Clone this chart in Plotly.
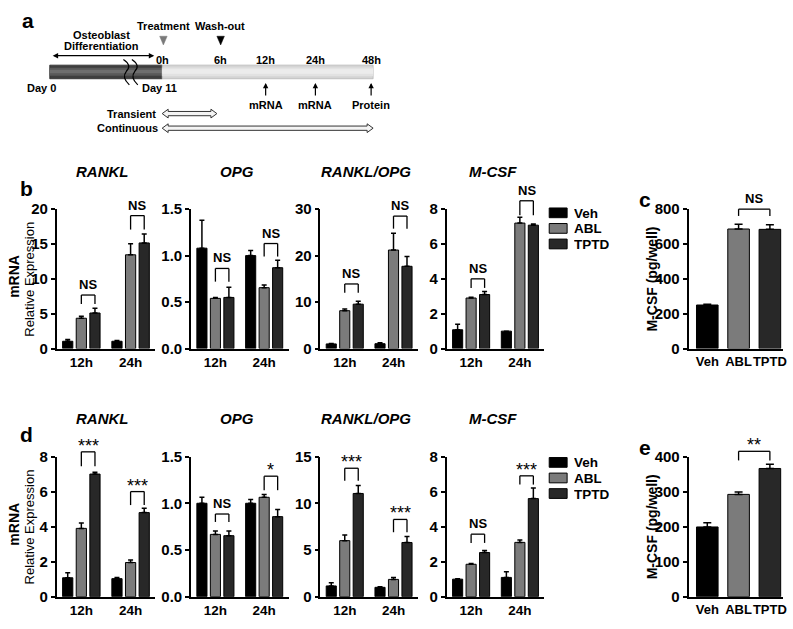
import plotly.graph_objects as go

W, H = 793, 629
FONT = "Liberation Sans, Arial, sans-serif"

# ---------------- data ----------------
groups = ["Veh", "ABL", "TPTD"]
times = ["12h", "24h"]
bar_colors = ["#000000", "#7b7b7b", "#282828"]

# panel b (transient treatment), values per group at [12h, 24h]
b_rankl_mean = {"Veh": [1.05, 1.05], "ABL": [4.35, 13.45], "TPTD": [5.1, 15.15]}
b_rankl_err = {"Veh": [0.25, 0.1], "ABL": [0.3, 1.6], "TPTD": [0.7, 1.3]}
b_opg_mean = {"Veh": [1.08, 1.0], "ABL": [0.54, 0.655], "TPTD": [0.55, 0.87]}
b_opg_err = {"Veh": [0.30, 0.055], "ABL": [0.01, 0.03], "TPTD": [0.11, 0.08]}
b_ratio_mean = {"Veh": [1.0, 1.05], "ABL": [8.15, 21.2], "TPTD": [9.55, 17.7]}
b_ratio_err = {"Veh": [0.1, 0.2], "ABL": [0.35, 3.6], "TPTD": [0.65, 2.1]}
b_mcsf_mean = {"Veh": [1.08, 1.0], "ABL": [2.9, 7.2], "TPTD": [3.1, 7.08]}
b_mcsf_err = {"Veh": [0.31, 0.0], "ABL": [0.04, 0.33], "TPTD": [0.17, 0.07]}
# panel c: M-CSF protein (pg/well)
c_mcsf_mean = [250, 686, 684]
c_mcsf_err = [4, 28, 26]

# panel d (continuous treatment)
d_rankl_mean = {"Veh": [1.08, 1.03], "ABL": [3.9, 1.95], "TPTD": [7.0, 4.8]}
d_rankl_err = {"Veh": [0.28, 0.07], "ABL": [0.3, 0.15], "TPTD": [0.1, 0.25]}
d_opg_mean = {"Veh": [1.0, 1.0], "ABL": [0.667, 1.064], "TPTD": [0.653, 0.857]}
d_opg_err = {"Veh": [0.065, 0.04], "ABL": [0.035, 0.03], "TPTD": [0.05, 0.075]}
d_ratio_mean = {"Veh": [1.15, 1.0], "ABL": [6.0, 1.85], "TPTD": [11.05, 5.8]}
d_ratio_err = {"Veh": [0.35, 0.05], "ABL": [0.6, 0.2], "TPTD": [0.85, 0.65]}
d_mcsf_mean = {"Veh": [1.0, 1.1], "ABL": [1.85, 3.1], "TPTD": [2.52, 5.6]}
d_mcsf_err = {"Veh": [0.03, 0.32], "ABL": [0.04, 0.14], "TPTD": [0.12, 0.6]}
# panel e
e_mcsf_mean = [199, 292, 366]
e_mcsf_err = [12, 7, 12]

# significance brackets ABL vs TPTD: (bracket top, leg bottom, label) per time point
b_rankl_sig = [(7.68, 6.4, "NS"), (19.07, 17.07, "NS")]
b_opg_sig = [(0.862, 0.72, "NS"), (1.13, 0.99, "NS")]
b_ratio_sig = [(13.9, 12.0, "NS"), (28.5, 25.8, "NS")]
b_mcsf_sig = [(4.0, 3.48, "NS"), (8.48, 7.65, "NS")]
c_sig = (800, 761, "NS")
d_rankl_sig = [(8.27, 7.45, "***"), (6.0, 5.23, "***")]
d_opg_sig = [(0.885, 0.80, "NS"), (1.29, 1.14, "*")]
d_ratio_sig = [(13.75, 12.4, "***"), (8.27, 6.9, "***")]
d_mcsf_sig = [(3.57, 3.07, "NS"), (6.9, 6.4, "***")]
e_sig = (415, 389, "**")

# ---------------- layout helpers ----------------
BARGAP = 0.17
BARGROUPGAP = 0.25


def px(x):
    return x / W


def py(y):
    return 1 - y / H


def sfx(n):
    return "" if n == 1 else str(n)


fig = go.Figure()
layout_axes = {}
shapes = []
annotations = []

ROW_B = (205.7, 349.0)
ROW_D = (460.0, 604.0)
COLS = [(57, 156), (192, 290), (322, 420), (449, 547)]
COL_P = (692, 787)

mrna_panels = [
    ("RANKL", b_rankl_mean, b_rankl_err, b_rankl_sig, 20, 5, None, ROW_B),
    ("OPG", b_opg_mean, b_opg_err, b_opg_sig, 1.5, 0.5, ".1f", ROW_B),
    ("RANKL/OPG", b_ratio_mean, b_ratio_err, b_ratio_sig, 30, 10, None, ROW_B),
    ("M-CSF", b_mcsf_mean, b_mcsf_err, b_mcsf_sig, 8, 2, None, ROW_B),
    ("RANKL", d_rankl_mean, d_rankl_err, d_rankl_sig, 8, 2, None, ROW_D),
    ("OPG", d_opg_mean, d_opg_err, d_opg_sig, 1.5, 0.5, ".1f", ROW_D),
    ("RANKL/OPG", d_ratio_mean, d_ratio_err, d_ratio_sig, 15, 5, None, ROW_D),
    ("M-CSF", d_mcsf_mean, d_mcsf_err, d_mcsf_sig, 8, 2, None, ROW_D),
]


def axis_common():
    return dict(showline=True, linecolor="black", linewidth=1.6, showgrid=False,
                zeroline=False, fixedrange=True)


def add_sig(n, xr, ymax, xa, xb, top, leg, label):
    """bracket drawn in axis-domain fractions of subplot n"""
    fa = (xa - xr[0]) / (xr[1] - xr[0])
    fb = (xb - xr[0]) / (xr[1] - xr[0])
    ft = top / ymax
    fl = leg / ymax
    xref = f"x{sfx(n)} domain"
    yref = f"y{sfx(n)} domain"
    ln = dict(color="black", width=1.3)
    shapes.append(dict(type="line", xref=xref, yref=yref, x0=fa, x1=fa, y0=fl, y1=ft, line=ln))
    shapes.append(dict(type="line", xref=xref, yref=yref, x0=fa, x1=fb, y0=ft, y1=ft, line=ln))
    shapes.append(dict(type="line", xref=xref, yref=yref, x0=fb, x1=fb, y0=ft, y1=fl, line=ln))
    if label == "NS":
        font = dict(family=FONT, size=13, color="black", weight="bold")
        ys = 1
    else:
        font = dict(family=FONT, size=18, color="black")
        ys = -6
    annotations.append(dict(xref=xref, yref=yref, x=(fa + fb) / 2, y=ft, text=label,
                            showarrow=False, xanchor="center", yanchor="bottom",
                            yshift=ys, font=font))


slot = (1 - BARGAP) / 3
n = 0
for i, (title, means, errs, sigs, ymax, dtick, fmt, row) in enumerate(mrna_panels):
    n += 1
    col = COLS[i % 4]
    xr = [-0.5, 1.5]
    for g, c in zip(groups, bar_colors):
        fig.add_trace(go.Bar(
            x=[0, 1], y=means[g], name=g, xaxis=f"x{sfx(n)}", yaxis=f"y{sfx(n)}",
            marker=dict(color=c, line=dict(color="black", width=1)),
            error_y=dict(type="data", symmetric=False, array=errs[g], arrayminus=[0, 0],
                         color="black", thickness=1.5, width=2.5),
            showlegend=False,
        ))
    xa = dict(axis_common(), domain=[px(col[0]), px(col[1])], anchor=f"y{sfx(n)}", range=xr,
              tickvals=[0, 1], ticktext=times, ticks="", tickangle=0,
              tickfont=dict(family=FONT, size=13.5, color="black", weight="bold"))
    ya = dict(axis_common(), domain=[py(row[1]), py(row[0])], anchor=f"x{sfx(n)}", range=[0, ymax],
              dtick=dtick, tick0=0, ticks="outside", ticklen=4, tickwidth=1.5, tickcolor="black",
              tickfont=dict(family=FONT, size=15, color="black", weight="bold"))
    if fmt:
        ya["tickformat"] = fmt
    layout_axes[f"xaxis{sfx(n)}"] = xa
    layout_axes[f"yaxis{sfx(n)}"] = ya
    for t, (top, lg, lab) in enumerate(sigs):
        add_sig(n, xr, ymax, t, t + slot, top, lg, lab)
    annotations.append(dict(xref="paper", yref="paper", x=px((col[0] + col[1]) / 2 - 3),
                            y=py(row[0] - 39), text=f"<b><i>{title}</i></b>", showarrow=False,
                            xanchor="center", yanchor="middle",
                            font=dict(family=FONT, size=15, color="black")))

# protein panels c and e
prot_panels = [(c_mcsf_mean, c_mcsf_err, c_sig, 800, 200, ROW_B),
               (e_mcsf_mean, e_mcsf_err, e_sig, 400, 100, ROW_D)]
for means, errs, sig, ymax, dtick, row in prot_panels:
    n += 1
    xr = [-0.6, 2.42]
    fig.add_trace(go.Bar(
        x=[0, 1, 2], y=means, xaxis=f"x{sfx(n)}", yaxis=f"y{sfx(n)}", width=0.69,
        marker=dict(color=bar_colors, line=dict(color="black", width=1)),
        error_y=dict(type="data", symmetric=False, array=errs, arrayminus=[0, 0, 0],
                     color="black", thickness=1.5, width=4),
        showlegend=False,
    ))
    layout_axes[f"xaxis{sfx(n)}"] = dict(axis_common(), domain=[px(COL_P[0]), px(COL_P[1])],
                                         anchor=f"y{sfx(n)}", range=xr, tickvals=[0, 1, 2],
                                         ticktext=groups, ticks="", tickangle=0,
                                         tickfont=dict(family=FONT, size=13, color="black", weight="bold"))
    layout_axes[f"yaxis{sfx(n)}"] = dict(axis_common(), domain=[py(row[1]), py(row[0])],
                                         anchor=f"x{sfx(n)}", range=[0, ymax], dtick=dtick, tick0=0,
                                         ticks="outside", ticklen=4, tickwidth=1.5, tickcolor="black",
                                         tickfont=dict(family=FONT, size=15, color="black", weight="bold"))
    add_sig(n, xr, ymax, 1, 2, *sig)
    annotations.append(dict(xref="paper", yref="paper", x=px(655), y=py((row[0] + row[1]) / 2),
                            text="<b>M-CSF (pg/well)</b>", textangle=-90, showarrow=False,
                            xanchor="center", yanchor="middle",
                            font=dict(family=FONT, size=14, color="black")))

# y titles for mRNA rows
for yc in [(ROW_B[0] + ROW_B[1]) / 2, (ROW_D[0] + ROW_D[1]) / 2]:
    annotations.append(dict(xref="paper", yref="paper", x=px(14), y=py(yc - 3), text="<b>mRNA</b>",
                            textangle=-90, showarrow=False, xanchor="center", yanchor="middle",
                            font=dict(family=FONT, size=14, color="black")))
    annotations.append(dict(xref="paper", yref="paper", x=px(30), y=py(yc), text="Relative Expression",
                            textangle=-90, showarrow=False, xanchor="center", yanchor="middle",
                            font=dict(family=FONT, size=13, color="black")))

# legends (one per row), drawn as swatches + labels
for ys in [(209.5, 225.5, 241.5), (466.0, 482.0, 498.0)]:
    for g, c, yc in zip(groups, bar_colors, ys):
        shapes.append(dict(type="rect", xref="paper", yref="paper", x0=px(552), x1=px(570),
                           y0=py(yc + 5), y1=py(yc - 5), fillcolor=c,
                           line=dict(color="black", width=1)))
        annotations.append(dict(xref="paper", yref="paper", x=px(576), y=py(yc), text=f"<b>{g}</b>",
                                showarrow=False, xanchor="left", yanchor="middle",
                                height=14, borderpad=0,
                                font=dict(family=FONT, size=13.5, color="black")))

# panel letters
for lab, x, y in [("a", 28, 12), ("b", 27, 184), ("c", 648, 196), ("d", 27, 437), ("e", 648, 451)]:
    annotations.append(dict(xref="paper", yref="paper", x=px(x), y=py(y), text=f"<b>{lab}</b>",
                            showarrow=False, xanchor="center", yanchor="middle",
                            font=dict(family=FONT, size=21, color="black")))

# ---------------- panel a: schematic ----------------
def pp(points):
    return "M " + " L ".join(f"{px(x):.5f},{py(y):.5f}" for x, y in points) + " Z"


def rect(x0, x1, y0, y1, fill, line=None):
    shapes.append(dict(type="rect", xref="paper", yref="paper", x0=px(x0), x1=px(x1),
                       y0=py(y1), y1=py(y0), fillcolor=fill,
                       line=dict(width=0.8 if line else 0, color=line or fill)))


rect(50, 163, 57.7, 71.7, "#3e3e3e", "#2a2a2a")
rect(50, 163, 60.5, 68.5, "#595959")
rect(50, 163, 62.5, 66.0, "#6e6e6e")
rect(163, 375, 57.7, 71.7, "#d4d4d4", "#b8b8b8")
rect(163, 375, 60.0, 69.0, "#e2e2e2")
rect(163, 375, 62.0, 66.5, "#ececec")

# break marks
for dx in [0, 8.5]:
    x = 124 + dx
    path = (f"M {px(x):.5f},{py(52):.5f} Q {px(x + 9):.5f},{py(58):.5f} {px(x + 3):.5f},{py(64):.5f} "
            f"Q {px(x - 2):.5f},{py(70):.5f} {px(x + 6):.5f},{py(78):.5f}")
    shapes.append(dict(type="path", xref="paper", yref="paper", path=path,
                       line=dict(color="black", width=1.2)))

# triangles (treatment / wash-out)
shapes.append(dict(type="path", xref="paper", yref="paper",
                   path=pp([(160.5, 28), (168, 28), (164.2, 37)]), fillcolor="#7a7a7a",
                   line=dict(color="#7a7a7a", width=0.5)))
shapes.append(dict(type="path", xref="paper", yref="paper",
                   path=pp([(218, 28), (225.5, 28), (221.8, 37)]), fillcolor="#000000",
                   line=dict(color="#000000", width=0.5)))


def hollow_arrow(x0, x1, yc, sh=2.2, hh=4.5, hl=6):
    pts = [(x0, yc), (x0 + hl, yc - hh), (x0 + hl, yc - sh), (x1 - hl, yc - sh), (x1 - hl, yc - hh),
           (x1, yc), (x1 - hl, yc + hh), (x1 - hl, yc + sh), (x0 + hl, yc + sh), (x0 + hl, yc + hh)]
    shapes.append(dict(type="path", xref="paper", yref="paper", path=pp(pts),
                       fillcolor="#f4f4f4", line=dict(color="#333333", width=1)))


hollow_arrow(163, 218, 107.5)
hollow_arrow(163, 375, 122.5)

# solid double-headed arrow for differentiation period
annotations.append(dict(xref="paper", yref="paper", x=px(155), y=py(48), axref="pixel", ayref="pixel",
                        ax=-103, ay=0, text="", showarrow=True, arrowhead=2, arrowsize=0.9,
                        arrowwidth=1.2, arrowside="end+start", arrowcolor="black"))
# up arrows
for x in [267, 317, 373]:
    annotations.append(dict(xref="paper", yref="paper", x=px(x), y=py(76), ax=0, ay=14,
                            text="", showarrow=True, arrowhead=2, arrowsize=0.9, arrowwidth=1.2,
                            arrowcolor="black"))

a_texts = [
    ("Osteoblast", 102, 27, "center"), ("Differentiation", 102, 38.5, "center"),
    ("Treatment", 164, 17, "center"), ("Wash-out", 221, 17, "center"),
    ("0h", 163, 52, "center"), ("6h", 222, 52, "center"), ("12h", 267, 52, "center"),
    ("24h", 317, 52, "center"), ("48h", 373, 52, "center"),
    ("Day 0", 42, 81, "center"), ("Day 11", 160, 81, "center"),
    ("mRNA", 267, 99, "center"), ("mRNA", 317, 99, "center"), ("Protein", 373, 99, "center"),
    ("Transient", 159, 107.5, "right"), ("Continuous", 161, 122.5, "right"),
]
for t, x, y, anc in a_texts:
    annotations.append(dict(xref="paper", yref="paper", x=px(x), y=py(y), text=f"<b>{t}</b>",
                            showarrow=False, xanchor=anc, yanchor="middle",
                            font=dict(family=FONT, size=11, color="black")))

fig.update_layout(
    width=W, height=H, margin=dict(l=0, r=0, t=0, b=0),
    paper_bgcolor="white", plot_bgcolor="white",
    barmode="group", bargap=BARGAP, bargroupgap=BARGROUPGAP,
    shapes=shapes, annotations=annotations, showlegend=False,
    font=dict(family=FONT, color="black"),
    **layout_axes,
)

fig.write_html("out.html", config={"displayModeBar": False},
               post_script="document.body.style.margin='0';"
                           "document.documentElement.style.overflow='hidden';")
